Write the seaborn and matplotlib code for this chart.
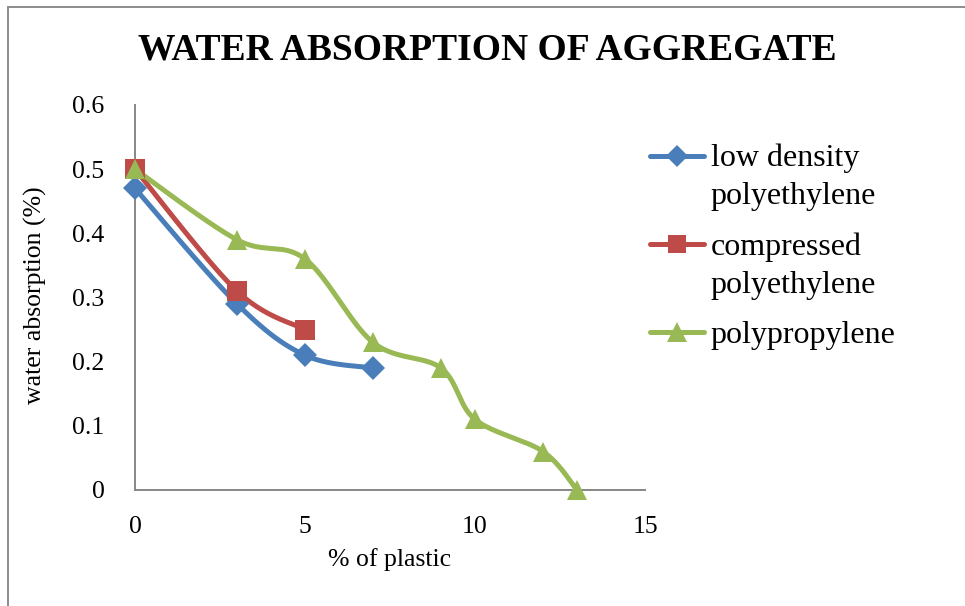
import numpy as np
import pandas as pd
import matplotlib
matplotlib.use("Agg")
import matplotlib.pyplot as plt
from matplotlib.lines import Line2D
from matplotlib.legend_handler import HandlerLine2D
import seaborn as sns

# ---- data ----
plastic_pct_ldpe = [0, 3, 5, 7]
absorption_ldpe = [0.47, 0.29, 0.21, 0.19]

plastic_pct_cpe = [0, 3, 5]
absorption_cpe = [0.50, 0.31, 0.25]

plastic_pct_pp = [0, 3, 5, 7, 9, 10, 12, 13]
absorption_pp = [0.50, 0.39, 0.36, 0.23, 0.19, 0.11, 0.06, 0.0]

series_names = ["low density\npolyethylene", "compressed\npolyethylene", "polypropylene"]
x_ticks = [0, 5, 10, 15]
y_ticks = [0, 0.1, 0.2, 0.3, 0.4, 0.5, 0.6]

colors = ["#4A7EBB", "#BE4B48", "#98B954"]
markers = ["D", "s", "^"]
marker_sizes = [12, 14, 15]


def smooth_curve(xs, ys, n=40):
    """Cubic Bezier smoothing through every point (Catmull-Rom style)."""
    p = np.column_stack([xs, ys]).astype(float)
    if len(p) < 3:
        return p[:, 0], p[:, 1]
    ext = np.vstack([p[0], p, p[-1]])
    out = []
    t = np.linspace(0, 1, n)[:, None]
    for i in range(1, len(ext) - 2):
        p0, p1, p2, p3 = ext[i - 1], ext[i], ext[i + 1], ext[i + 2]
        c1 = p1 + (p2 - p0) / 6.0
        c2 = p2 - (p3 - p1) / 6.0
        seg = ((1 - t) ** 3) * p1 + 3 * ((1 - t) ** 2) * t * c1 + 3 * (1 - t) * t ** 2 * c2 + t ** 3 * p2
        out.append(seg if i == 1 else seg[1:])
    out = np.vstack(out)
    return out[:, 0], out[:, 1]


class FirstLineHandler(HandlerLine2D):
    """Legend handle aligned with the first line of a multi-line label."""

    def __init__(self, shift=0.0, **kw):
        super().__init__(**kw)
        self.shift = shift

    def create_artists(self, legend, orig_handle, xdescent, ydescent,
                       width, height, fontsize, trans):
        return super().create_artists(legend, orig_handle, xdescent,
                                      ydescent - 2 * self.shift * fontsize,
                                      width, height, fontsize, trans)


sns.set_theme(style="white")
plt.rcParams["font.family"] = ["Liberation Serif", "DejaVu Serif"]
plt.rcParams["text.color"] = "black"
plt.rcParams["axes.labelcolor"] = "black"

W, H = 965, 606
fig = plt.figure(figsize=(W / 100, H / 100), dpi=100)
ax = fig.add_axes([135 / W, 1 - 490 / H, (645 - 135) / W, (490 - 105) / H])

all_series = [
    (plastic_pct_ldpe, absorption_ldpe),
    (plastic_pct_cpe, absorption_cpe),
    (plastic_pct_pp, absorption_pp),
]

handles = []
for (xs, ys), name, c, m, ms in zip(all_series, series_names, colors, markers, marker_sizes):
    sx, sy = smooth_curve(xs, ys)
    curve = pd.DataFrame({"x": sx, "y": sy})
    sns.lineplot(data=curve, x="x", y="y", ax=ax, sort=False, estimator=None,
                 color=c, linewidth=3.6, solid_capstyle="round",
                 solid_joinstyle="round", clip_on=False, zorder=3)
    ax.plot(xs, ys, linestyle="none", marker=m, markersize=ms, color=c,
            markeredgewidth=0, clip_on=False, zorder=4)
    handles.append(Line2D([], [], color=c, linewidth=3.6, marker=m,
                          markersize=ms * 0.95, markeredgewidth=0,
                          solid_capstyle="round"))

ax.set_xlim(0, 15)
ax.set_ylim(0, 0.6)
ax.set_xticks(x_ticks)
ax.set_xticklabels([str(v) for v in x_ticks])
ax.set_yticks(y_ticks)
ax.set_yticklabels(["0"] + [f"{v:.1f}" for v in y_ticks[1:]])
ax.tick_params(axis="both", length=0, labelsize=18.5, colors="black")
ax.tick_params(axis="y", pad=22)
ax.tick_params(axis="x", pad=19)
ax.set_xlabel("")
ax.set_ylabel("")
ax.grid(False)
for side in ["top", "right"]:
    ax.spines[side].set_visible(False)
for side in ["left", "bottom"]:
    ax.spines[side].set_color("#878787")
    ax.spines[side].set_linewidth(1.4)

fig.text(390 / W, 1 - 560 / H, "% of plastic", ha="center", va="center", fontsize=18.5)
fig.text(35 / W, 1 - 295 / H, "water absorption (%)", ha="center", va="center",
         rotation=90, fontsize=18.5)
fig.text(487 / W, 1 - 50 / H, "WATER ABSORPTION OF AGGREGATE", ha="center",
         va="center", fontsize=27, fontweight="bold", color="black")

leg = ax.legend(handles, series_names, loc="upper left",
                bbox_to_anchor=(650 / W, 1 - 144 / H), bbox_transform=fig.transFigure,
                frameon=False, fontsize=23, handlelength=1.7, handletextpad=0.2,
                labelspacing=0.66, borderpad=0, borderaxespad=0,
                handler_map={handles[0]: FirstLineHandler(shift=0.68, numpoints=1),
                             handles[1]: FirstLineHandler(shift=0.68, numpoints=1),
                             handles[2]: FirstLineHandler(shift=0.0, numpoints=1)})
for txt in leg.get_texts():
    txt.set_linespacing(1.4)
    txt.set_color("black")

# outer chart frame
fig.add_artist(Line2D([8 / W, 8 / W], [0, 1 - 7 / H], transform=fig.transFigure,
                      color="#8C8C8C", linewidth=1.4))
fig.add_artist(Line2D([8 / W, 1], [1 - 7 / H, 1 - 7 / H], transform=fig.transFigure,
                      color="#8C8C8C", linewidth=1.4))

fig.savefig("out.png", dpi=100)
